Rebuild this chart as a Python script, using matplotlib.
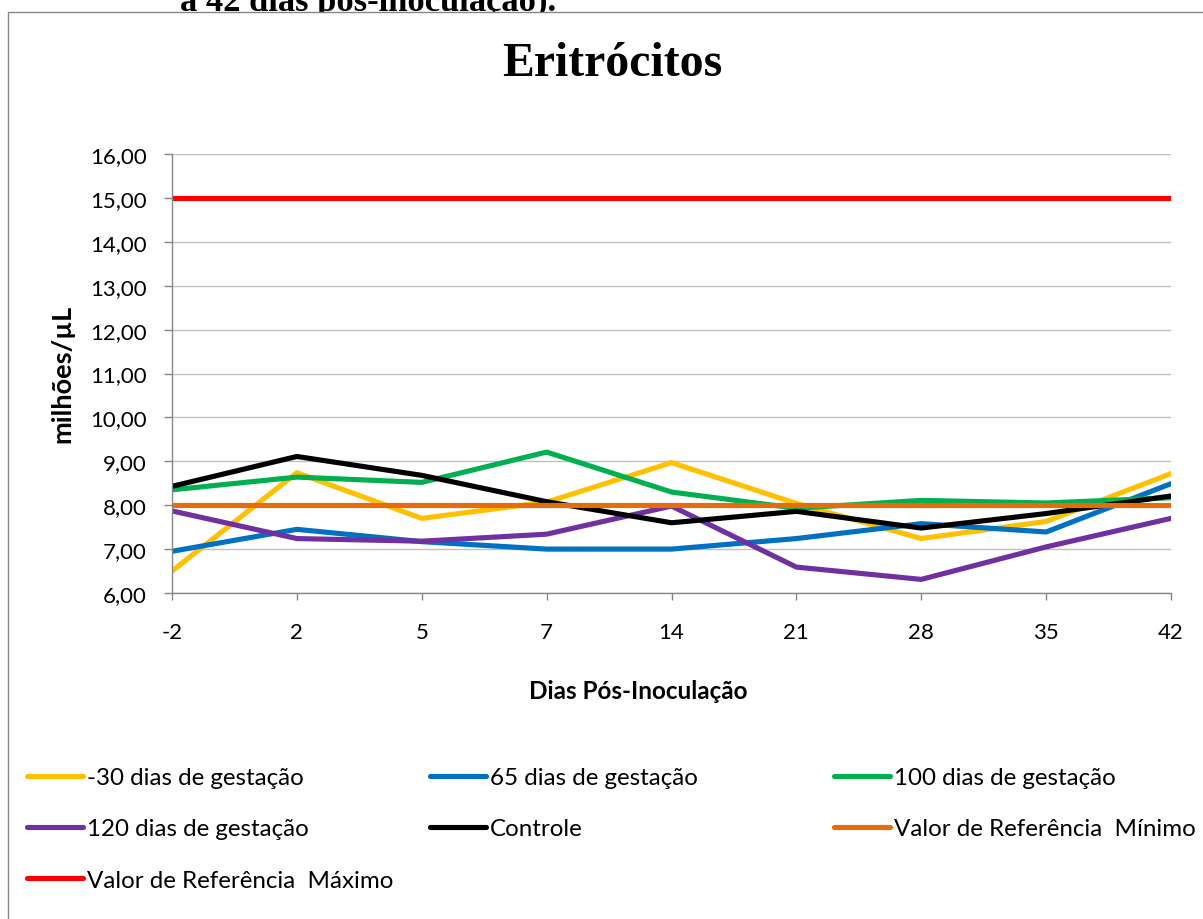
import matplotlib
matplotlib.use("Agg")
import matplotlib.pyplot as plt
import numpy as np
from matplotlib.patches import Rectangle
from matplotlib.ticker import FuncFormatter

# Eritrócitos (milhões/µL) por dia pós-inoculação
dias = ["-2", "2", "5", "7", "14", "21", "28", "35", "42"]
gest_menos30 = [6.50, 8.74, 7.70, 8.07, 8.97, 8.04, 7.24, 7.63, 8.72]
gest_65 = [6.95, 7.45, 7.17, 7.00, 7.00, 7.24, 7.58, 7.39, 8.49]
gest_100 = [8.35, 8.64, 8.52, 9.21, 8.30, 7.93, 8.11, 8.05, 8.17]
gest_120 = [7.87, 7.24, 7.18, 7.34, 7.98, 6.59, 6.31, 7.05, 7.70]
controle = [8.43, 9.11, 8.68, 8.08, 7.60, 7.86, 7.48, 7.81, 8.21]
ref_min = [8.00] * 9
ref_max = [15.00] * 9

series = [
    ("-30 dias de gestação", gest_menos30, "#FFC000"),
    ("65 dias de gestação", gest_65, "#0070C0"),
    ("100 dias de gestação", gest_100, "#00B050"),
    ("120 dias de gestação", gest_120, "#7030A0"),
    ("Controle", controle, "#000000"),
    ("Valor de Referência  Mínimo", ref_min, "#E46C0A"),
    ("Valor de Referência  Máximo", ref_max, "#FF0000"),
]

sans = ["Lato", "DejaVu Sans"]
serif = ["Liberation Serif", "DejaVu Serif"]
plt.rcParams["font.family"] = sans

W, H = 1203, 920
fig = plt.figure(figsize=(W / 100, H / 100), dpi=100)

# texto da legenda da figura (cortado pela moldura do gráfico)
fig.text(180 / W, 1 - 11 / H, "a 42 dias pós-inoculação).", ha="left", va="baseline",
         family=serif, weight="bold", size=24.8, zorder=0.5)

# moldura da área do gráfico
frame = Rectangle((8 / W, -0.1), 1.2, 1 - 13 / H + 0.1, transform=fig.transFigure,
                  facecolor="white", edgecolor="#868686", lw=1.0, zorder=1)
fig.patches.append(frame)

ax = fig.add_axes([172 / W, 1 - 594 / H, (1171 - 172) / W, (594 - 155) / H])
ax.set_zorder(2)

x = np.arange(len(dias))
handles = {}
for nome, vals, cor in series:
    (ln,) = ax.plot(x, vals, color=cor, lw=3.7, solid_joinstyle="round",
                    solid_capstyle="round", label=nome)
    handles[nome] = ln

ax.set_xlim(0, len(dias) - 1)
ax.set_ylim(6, 16)
ax.set_xticks(x)
ax.set_xticklabels(dias)
ax.set_yticks(np.arange(6, 17, 1))
ax.yaxis.set_major_formatter(FuncFormatter(lambda v, p: f"{v:.2f}".replace(".", ",")))
ax.grid(axis="y", color="#BFBFBF", lw=1.0)
ax.set_axisbelow(True)
for s in ["top", "right"]:
    ax.spines[s].set_visible(False)
for s in ["left", "bottom"]:
    ax.spines[s].set_color("#868686")
    ax.spines[s].set_linewidth(1.0)
ax.tick_params(axis="x", length=5, width=1, color="#868686", pad=16, labelsize=16)
ax.tick_params(axis="y", length=6, width=1, color="#868686", pad=12, labelsize=16)

fig.text(62 / W, 1 - 374 / H, "milhões/µL", ha="center", va="center", rotation=90,
         weight="bold", size=19.5, zorder=3)
fig.text(638 / W, 1 - 692 / H, "Dias Pós-Inoculação", ha="center", va="center",
         weight="bold", size=17.5, zorder=3)

fig.text(612 / W, 1 - 76 / H, "Eritrócitos", ha="center", va="baseline",
         family=serif, weight="bold", size=34.4, zorder=3)

# legenda em três colunas, ordem por linhas
colunas = [
    (27, ["-30 dias de gestação", "120 dias de gestação", "Valor de Referência  Máximo"]),
    (430, ["65 dias de gestação", "Controle"]),
    (834, ["100 dias de gestação", "Valor de Referência  Mínimo"]),
]
for x0, nomes in colunas:
    fig.legend([handles[n] for n in nomes], nomes, loc="upper left",
               bbox_to_anchor=(x0 / W, 1 - 768 / H), frameon=False, fontsize=17.4,
               borderpad=0, borderaxespad=0, handlelength=2.32, handletextpad=0.16,
               labelspacing=1.26)

fig.savefig("out.png", dpi=100)
